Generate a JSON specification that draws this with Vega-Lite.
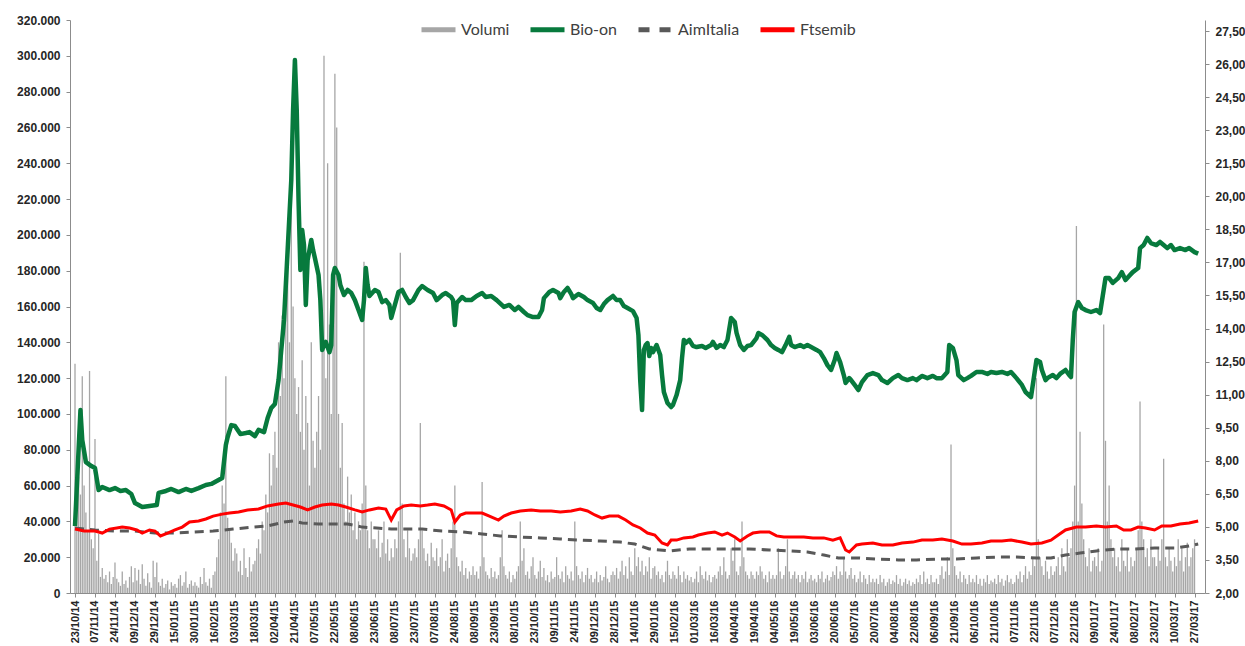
{
"$schema":"https://vega.github.io/schema/vega-lite/v6.json",
"width":1135,"height":573,
"autosize":{"type":"none"},
"padding":{"left":70,"top":20,"right":40,"bottom":53},
"background":"white",
"config":{"view":{"stroke":null},"axis":{"labelFont":"Liberation Sans","labelFontWeight":"bold","labelColor":"#262626","domainColor":"#8c8c8c","tickColor":"#8c8c8c","grid":false},
"legend":{"orient":"none","legendX":349,"legendY":-10,"direction":"horizontal","symbolType":"stroke","symbolSize":1156,"symbolStrokeWidth":5,"labelFont":"Lato","labelFontSize":16,"labelColor":"#404040","columnPadding":10,"labelOffset":3}},
"datasets":{
"vol":[
{"t":0,"v":128000},{"t":1,"v":50000},{"t":2,"v":65000},{"t":3,"v":55000},{"t":4,"v":121000},{"t":5,"v":60000},{"t":6,"v":45000},{"t":7,"v":35000},{"t":8,"v":124000},{"t":9,"v":30000},{"t":10,"v":25000},
{"t":11,"v":86000},{"t":12,"v":18000},{"t":13,"v":33000},{"t":14,"v":9000},{"t":15,"v":14000},{"t":16,"v":8000},{"t":17,"v":10000},{"t":18,"v":6000},{"t":19,"v":12000},{"t":20,"v":5000},{"t":21,"v":9000},
{"t":22,"v":17000},{"t":23,"v":8000},{"t":24,"v":6000},{"t":25,"v":4000},{"t":26,"v":12000},{"t":27,"v":5000},{"t":28,"v":7000},{"t":29,"v":3000},{"t":30,"v":9000},{"t":31,"v":15000},{"t":32,"v":6000},
{"t":33,"v":14000},{"t":34,"v":7000},{"t":35,"v":13000},{"t":36,"v":5000},{"t":37,"v":16000},{"t":38,"v":8000},{"t":39,"v":4000},{"t":40,"v":11000},{"t":41,"v":6000},{"t":42,"v":3000},{"t":43,"v":18000},
{"t":44,"v":9000},{"t":45,"v":17000},{"t":46,"v":6000},{"t":47,"v":4000},{"t":48,"v":8000},{"t":49,"v":3000},{"t":50,"v":5000},{"t":51,"v":7000},{"t":52,"v":2000},{"t":53,"v":6000},{"t":54,"v":4000},
{"t":55,"v":5000},{"t":56,"v":3000},{"t":57,"v":8000},{"t":58,"v":10000},{"t":59,"v":4000},{"t":60,"v":6000},{"t":61,"v":12000},{"t":62,"v":3000},{"t":63,"v":5000},{"t":64,"v":7000},{"t":65,"v":4000},
{"t":66,"v":6000},{"t":67,"v":4000},{"t":68,"v":3000},{"t":69,"v":9000},{"t":70,"v":5000},{"t":71,"v":14000},{"t":72,"v":6000},{"t":73,"v":4000},{"t":74,"v":8000},{"t":75,"v":3000},{"t":76,"v":10000},
{"t":77,"v":12000},{"t":78,"v":20000},{"t":79,"v":30000},{"t":80,"v":45000},{"t":81,"v":60000},{"t":82,"v":50000},{"t":83,"v":121000},{"t":84,"v":42000},{"t":85,"v":35000},{"t":86,"v":28000},{"t":87,"v":18000},
{"t":88,"v":25000},{"t":89,"v":22000},{"t":90,"v":12000},{"t":91,"v":18000},{"t":92,"v":10000},{"t":93,"v":25000},{"t":94,"v":14000},{"t":95,"v":9000},{"t":96,"v":20000},{"t":97,"v":12000},{"t":98,"v":16000},
{"t":99,"v":18000},{"t":100,"v":25000},{"t":101,"v":30000},{"t":102,"v":22000},{"t":103,"v":40000},{"t":104,"v":35000},{"t":105,"v":55000},{"t":106,"v":45000},{"t":107,"v":78000},{"t":108,"v":60000},{"t":109,"v":77000},
{"t":110,"v":90000},{"t":111,"v":70000},{"t":112,"v":140000},{"t":113,"v":110000},{"t":114,"v":155000},{"t":115,"v":120000},{"t":116,"v":170000},{"t":117,"v":190000},{"t":118,"v":140000},{"t":119,"v":230000},{"t":120,"v":160000},
{"t":121,"v":120000},{"t":122,"v":100000},{"t":123,"v":115000},{"t":124,"v":90000},{"t":125,"v":130000},{"t":126,"v":80000},{"t":127,"v":110000},{"t":128,"v":95000},{"t":129,"v":60000},{"t":130,"v":140000},{"t":131,"v":85000},
{"t":132,"v":70000},{"t":133,"v":90000},{"t":134,"v":110000},{"t":135,"v":80000},{"t":136,"v":150000},{"t":137,"v":300000},{"t":138,"v":120000},{"t":139,"v":240000},{"t":140,"v":150000},{"t":141,"v":100000},{"t":142,"v":180000},
{"t":143,"v":290000},{"t":144,"v":260000},{"t":145,"v":100000},{"t":146,"v":70000},{"t":147,"v":95000},{"t":148,"v":50000},{"t":149,"v":40000},{"t":150,"v":65000},{"t":151,"v":45000},{"t":152,"v":55000},{"t":153,"v":35000},
{"t":154,"v":45000},{"t":155,"v":30000},{"t":156,"v":40000},{"t":157,"v":35000},{"t":158,"v":50000},{"t":159,"v":185000},{"t":160,"v":60000},{"t":161,"v":35000},{"t":162,"v":25000},{"t":163,"v":40000},{"t":164,"v":30000},
{"t":165,"v":30000},{"t":166,"v":25000},{"t":167,"v":35000},{"t":168,"v":20000},{"t":169,"v":28000},{"t":170,"v":40000},{"t":171,"v":22000},{"t":172,"v":30000},{"t":173,"v":18000},{"t":174,"v":25000},{"t":175,"v":20000},
{"t":176,"v":30000},{"t":177,"v":25000},{"t":178,"v":40000},{"t":179,"v":190000},{"t":180,"v":50000},{"t":181,"v":30000},{"t":182,"v":20000},{"t":183,"v":35000},{"t":184,"v":25000},{"t":185,"v":18000},{"t":186,"v":22000},
{"t":187,"v":25000},{"t":188,"v":20000},{"t":189,"v":30000},{"t":190,"v":95000},{"t":191,"v":35000},{"t":192,"v":25000},{"t":193,"v":18000},{"t":194,"v":22000},{"t":195,"v":15000},{"t":196,"v":28000},{"t":197,"v":20000},
{"t":198,"v":18000},{"t":199,"v":25000},{"t":200,"v":15000},{"t":201,"v":20000},{"t":202,"v":30000},{"t":203,"v":12000},{"t":204,"v":18000},{"t":205,"v":22000},{"t":206,"v":14000},{"t":207,"v":25000},{"t":208,"v":40000},
{"t":209,"v":60000},{"t":210,"v":20000},{"t":211,"v":15000},{"t":212,"v":12000},{"t":213,"v":18000},{"t":214,"v":10000},{"t":215,"v":14000},{"t":216,"v":8000},{"t":217,"v":12000},{"t":218,"v":10000},{"t":219,"v":15000},
{"t":220,"v":10000},{"t":221,"v":12000},{"t":222,"v":8000},{"t":223,"v":15000},{"t":224,"v":62000},{"t":225,"v":20000},{"t":226,"v":12000},{"t":227,"v":10000},{"t":228,"v":8000},{"t":229,"v":14000},{"t":230,"v":9000},
{"t":231,"v":12000},{"t":232,"v":8000},{"t":233,"v":10000},{"t":234,"v":20000},{"t":235,"v":35000},{"t":236,"v":15000},{"t":237,"v":10000},{"t":238,"v":8000},{"t":239,"v":12000},{"t":240,"v":6000},{"t":241,"v":10000},
{"t":242,"v":8000},{"t":243,"v":12000},{"t":244,"v":15000},{"t":245,"v":40000},{"t":246,"v":18000},{"t":247,"v":25000},{"t":248,"v":10000},{"t":249,"v":12000},{"t":250,"v":8000},{"t":251,"v":15000},{"t":252,"v":20000},
{"t":253,"v":10000},{"t":254,"v":8000},{"t":255,"v":12000},{"t":256,"v":18000},{"t":257,"v":9000},{"t":258,"v":14000},{"t":259,"v":7000},{"t":260,"v":10000},{"t":261,"v":6000},{"t":262,"v":12000},{"t":263,"v":8000},
{"t":264,"v":9000},{"t":265,"v":20000},{"t":266,"v":10000},{"t":267,"v":8000},{"t":268,"v":12000},{"t":269,"v":6000},{"t":270,"v":15000},{"t":271,"v":10000},{"t":272,"v":8000},{"t":273,"v":12000},{"t":274,"v":7000},
{"t":275,"v":40000},{"t":276,"v":15000},{"t":277,"v":10000},{"t":278,"v":8000},{"t":279,"v":12000},{"t":280,"v":6000},{"t":281,"v":10000},{"t":282,"v":14000},{"t":283,"v":8000},{"t":284,"v":10000},{"t":285,"v":6000},
{"t":286,"v":8000},{"t":287,"v":12000},{"t":288,"v":6000},{"t":289,"v":10000},{"t":290,"v":7000},{"t":291,"v":9000},{"t":292,"v":15000},{"t":293,"v":8000},{"t":294,"v":6000},{"t":295,"v":10000},{"t":296,"v":12000},
{"t":297,"v":10000},{"t":298,"v":14000},{"t":299,"v":8000},{"t":300,"v":12000},{"t":301,"v":18000},{"t":302,"v":10000},{"t":303,"v":15000},{"t":304,"v":8000},{"t":305,"v":20000},{"t":306,"v":12000},{"t":307,"v":10000},
{"t":308,"v":25000},{"t":309,"v":15000},{"t":310,"v":20000},{"t":311,"v":12000},{"t":312,"v":18000},{"t":313,"v":10000},{"t":314,"v":15000},{"t":315,"v":12000},{"t":316,"v":20000},{"t":317,"v":8000},{"t":318,"v":14000},
{"t":319,"v":15000},{"t":320,"v":10000},{"t":321,"v":12000},{"t":322,"v":8000},{"t":323,"v":10000},{"t":324,"v":6000},{"t":325,"v":12000},{"t":326,"v":18000},{"t":327,"v":10000},{"t":328,"v":8000},{"t":329,"v":12000},
{"t":330,"v":10000},{"t":331,"v":8000},{"t":332,"v":15000},{"t":333,"v":10000},{"t":334,"v":6000},{"t":335,"v":12000},{"t":336,"v":8000},{"t":337,"v":10000},{"t":338,"v":7000},{"t":339,"v":9000},{"t":340,"v":6000},
{"t":341,"v":8000},{"t":342,"v":12000},{"t":343,"v":6000},{"t":344,"v":15000},{"t":345,"v":10000},{"t":346,"v":8000},{"t":347,"v":12000},{"t":348,"v":7000},{"t":349,"v":10000},{"t":350,"v":6000},{"t":351,"v":9000},
{"t":352,"v":10000},{"t":353,"v":8000},{"t":354,"v":12000},{"t":355,"v":15000},{"t":356,"v":10000},{"t":357,"v":20000},{"t":358,"v":12000},{"t":359,"v":8000},{"t":360,"v":10000},{"t":361,"v":25000},{"t":362,"v":18000},
{"t":363,"v":30000},{"t":364,"v":12000},{"t":365,"v":10000},{"t":366,"v":15000},{"t":367,"v":40000},{"t":368,"v":20000},{"t":369,"v":12000},{"t":370,"v":10000},{"t":371,"v":8000},{"t":372,"v":12000},{"t":373,"v":10000},
{"t":374,"v":8000},{"t":375,"v":12000},{"t":376,"v":10000},{"t":377,"v":15000},{"t":378,"v":12000},{"t":379,"v":8000},{"t":380,"v":10000},{"t":381,"v":6000},{"t":382,"v":12000},{"t":383,"v":8000},{"t":384,"v":10000},
{"t":385,"v":8000},{"t":386,"v":10000},{"t":387,"v":25000},{"t":388,"v":12000},{"t":389,"v":8000},{"t":390,"v":10000},{"t":391,"v":15000},{"t":392,"v":30000},{"t":393,"v":12000},{"t":394,"v":8000},{"t":395,"v":10000},
{"t":396,"v":12000},{"t":397,"v":8000},{"t":398,"v":10000},{"t":399,"v":6000},{"t":400,"v":10000},{"t":401,"v":8000},{"t":402,"v":12000},{"t":403,"v":6000},{"t":404,"v":8000},{"t":405,"v":10000},{"t":406,"v":7000},
{"t":407,"v":8000},{"t":408,"v":6000},{"t":409,"v":10000},{"t":410,"v":8000},{"t":411,"v":12000},{"t":412,"v":6000},{"t":413,"v":8000},{"t":414,"v":10000},{"t":415,"v":7000},{"t":416,"v":9000},{"t":417,"v":12000},
{"t":418,"v":10000},{"t":419,"v":15000},{"t":420,"v":8000},{"t":421,"v":12000},{"t":422,"v":10000},{"t":423,"v":20000},{"t":424,"v":12000},{"t":425,"v":8000},{"t":426,"v":10000},{"t":427,"v":14000},{"t":428,"v":8000},
{"t":429,"v":10000},{"t":430,"v":6000},{"t":431,"v":8000},{"t":432,"v":12000},{"t":433,"v":6000},{"t":434,"v":10000},{"t":435,"v":8000},{"t":436,"v":5000},{"t":437,"v":10000},{"t":438,"v":6000},{"t":439,"v":8000},
{"t":440,"v":6000},{"t":441,"v":8000},{"t":442,"v":5000},{"t":443,"v":10000},{"t":444,"v":6000},{"t":445,"v":8000},{"t":446,"v":4000},{"t":447,"v":6000},{"t":448,"v":8000},{"t":449,"v":5000},{"t":450,"v":7000},
{"t":451,"v":6000},{"t":452,"v":10000},{"t":453,"v":5000},{"t":454,"v":8000},{"t":455,"v":4000},{"t":456,"v":6000},{"t":457,"v":8000},{"t":458,"v":5000},{"t":459,"v":7000},{"t":460,"v":4000},{"t":461,"v":6000},
{"t":462,"v":5000},{"t":463,"v":8000},{"t":464,"v":6000},{"t":465,"v":10000},{"t":466,"v":5000},{"t":467,"v":12000},{"t":468,"v":6000},{"t":469,"v":8000},{"t":470,"v":5000},{"t":471,"v":10000},{"t":472,"v":6000},
{"t":473,"v":6000},{"t":474,"v":8000},{"t":475,"v":5000},{"t":476,"v":10000},{"t":477,"v":15000},{"t":478,"v":8000},{"t":479,"v":12000},{"t":480,"v":20000},{"t":481,"v":10000},{"t":482,"v":83000},{"t":483,"v":25000},
{"t":484,"v":15000},{"t":485,"v":10000},{"t":486,"v":8000},{"t":487,"v":12000},{"t":488,"v":6000},{"t":489,"v":10000},{"t":490,"v":8000},{"t":491,"v":5000},{"t":492,"v":10000},{"t":493,"v":6000},{"t":494,"v":8000},
{"t":495,"v":6000},{"t":496,"v":10000},{"t":497,"v":5000},{"t":498,"v":8000},{"t":499,"v":4000},{"t":500,"v":8000},{"t":501,"v":6000},{"t":502,"v":10000},{"t":503,"v":5000},{"t":504,"v":7000},{"t":505,"v":6000},
{"t":506,"v":8000},{"t":507,"v":5000},{"t":508,"v":10000},{"t":509,"v":6000},{"t":510,"v":8000},{"t":511,"v":4000},{"t":512,"v":7000},{"t":513,"v":10000},{"t":514,"v":6000},{"t":515,"v":8000},{"t":516,"v":5000},
{"t":517,"v":6000},{"t":518,"v":10000},{"t":519,"v":8000},{"t":520,"v":12000},{"t":521,"v":6000},{"t":522,"v":10000},{"t":523,"v":15000},{"t":524,"v":8000},{"t":525,"v":12000},{"t":526,"v":10000},{"t":527,"v":20000},
{"t":528,"v":15000},{"t":529,"v":120000},{"t":530,"v":30000},{"t":531,"v":20000},{"t":532,"v":15000},{"t":533,"v":10000},{"t":534,"v":18000},{"t":535,"v":12000},{"t":536,"v":8000},{"t":537,"v":15000},{"t":538,"v":10000},
{"t":539,"v":12000},{"t":540,"v":15000},{"t":541,"v":20000},{"t":542,"v":10000},{"t":543,"v":25000},{"t":544,"v":15000},{"t":545,"v":12000},{"t":546,"v":30000},{"t":547,"v":20000},{"t":548,"v":25000},{"t":549,"v":40000},
{"t":550,"v":60000},{"t":551,"v":205000},{"t":552,"v":40000},{"t":553,"v":90000},{"t":554,"v":50000},{"t":555,"v":30000},{"t":556,"v":20000},{"t":557,"v":15000},{"t":558,"v":25000},{"t":559,"v":12000},{"t":560,"v":18000},
{"t":561,"v":20000},{"t":562,"v":15000},{"t":563,"v":25000},{"t":564,"v":12000},{"t":565,"v":18000},{"t":566,"v":150000},{"t":567,"v":85000},{"t":568,"v":40000},{"t":569,"v":60000},{"t":570,"v":30000},{"t":571,"v":20000},
{"t":572,"v":25000},{"t":573,"v":15000},{"t":574,"v":20000},{"t":575,"v":12000},{"t":576,"v":30000},{"t":577,"v":18000},{"t":578,"v":15000},{"t":579,"v":25000},{"t":580,"v":12000},{"t":581,"v":20000},{"t":582,"v":15000},
{"t":583,"v":18000},{"t":584,"v":25000},{"t":585,"v":35000},{"t":586,"v":107000},{"t":587,"v":40000},{"t":588,"v":30000},{"t":589,"v":20000},{"t":590,"v":25000},{"t":591,"v":15000},{"t":592,"v":30000},{"t":593,"v":20000},
{"t":594,"v":20000},{"t":595,"v":15000},{"t":596,"v":25000},{"t":597,"v":18000},{"t":598,"v":30000},{"t":599,"v":75000},{"t":600,"v":20000},{"t":601,"v":15000},{"t":602,"v":25000},{"t":603,"v":18000},{"t":604,"v":12000},
{"t":605,"v":20000},{"t":606,"v":15000},{"t":607,"v":30000},{"t":608,"v":18000},{"t":609,"v":25000},{"t":610,"v":12000},{"t":611,"v":20000},{"t":612,"v":28000},{"t":613,"v":15000},{"t":614,"v":20000},{"t":615,"v":25000},
{"t":616,"v":30000}
],
"px":[
{"s":"Bio-on","t":0,"p":5.04},{"s":"Bio-on","t":3,"p":10.3},{"s":"Bio-on","t":4,"p":8.94},{"s":"Bio-on","t":6,"p":7.94},{"s":"Bio-on","t":9,"p":7.76},{"s":"Bio-on","t":11,"p":7.67},{"s":"Bio-on","t":13,"p":6.67},{"s":"Bio-on","t":15,"p":6.81},{"s":"Bio-on","t":19,"p":6.67},{"s":"Bio-on","t":22,"p":6.76},{"s":"Bio-on","t":25,"p":6.63},{"s":"Bio-on","t":28,"p":6.67},{"s":"Bio-on","t":31,"p":6.49},{"s":"Bio-on","t":33,"p":6.08},{"s":"Bio-on","t":37,"p":5.9},{"s":"Bio-on","t":41,"p":5.95},{"s":"Bio-on","t":45,"p":5.99},{"s":"Bio-on","t":46,"p":6.54},{"s":"Bio-on","t":50,"p":6.63},{"s":"Bio-on","t":53,"p":6.72},{"s":"Bio-on","t":57,"p":6.58},{"s":"Bio-on","t":61,"p":6.72},{"s":"Bio-on","t":64,"p":6.63},{"s":"Bio-on","t":68,"p":6.76},{"s":"Bio-on","t":72,"p":6.9},{"s":"Bio-on","t":75,"p":6.95},{"s":"Bio-on","t":79,"p":7.13},{"s":"Bio-on","t":81,"p":7.22},{"s":"Bio-on","t":83,"p":8.72},{"s":"Bio-on","t":84,"p":9.08},{"s":"Bio-on","t":86,"p":9.62},{"s":"Bio-on","t":88,"p":9.58},{"s":"Bio-on","t":91,"p":9.21},{"s":"Bio-on","t":94,"p":9.26},{"s":"Bio-on","t":96,"p":9.3},{"s":"Bio-on","t":99,"p":9.12},{"s":"Bio-on","t":101,"p":9.4},{"s":"Bio-on","t":104,"p":9.3},{"s":"Bio-on","t":106,"p":9.94},{"s":"Bio-on","t":108,"p":10.39},{"s":"Bio-on","t":110,"p":10.58},{"s":"Bio-on","t":112,"p":11.66},{"s":"Bio-on","t":115,"p":14.39},{"s":"Bio-on","t":117,"p":17.56},{"s":"Bio-on","t":119,"p":20.74},{"s":"Bio-on","t":120,"p":23.91},{"s":"Bio-on","t":121,"p":26.18},{"s":"Bio-on","t":122,"p":23.91},{"s":"Bio-on","t":123,"p":19.83},{"s":"Bio-on","t":124,"p":16.66},{"s":"Bio-on","t":125,"p":18.47},{"s":"Bio-on","t":126,"p":17.79},{"s":"Bio-on","t":127,"p":15.07},{"s":"Bio-on","t":128,"p":17.11},{"s":"Bio-on","t":129,"p":17.56},{"s":"Bio-on","t":130,"p":18.02},{"s":"Bio-on","t":131,"p":17.56},{"s":"Bio-on","t":132,"p":17.2},{"s":"Bio-on","t":134,"p":16.43},{"s":"Bio-on","t":135,"p":15.29},{"s":"Bio-on","t":136,"p":13.03},{"s":"Bio-on","t":137,"p":13.25},{"s":"Bio-on","t":138,"p":13.39},{"s":"Bio-on","t":140,"p":12.93},{"s":"Bio-on","t":141,"p":13.25},{"s":"Bio-on","t":142,"p":16.43},{"s":"Bio-on","t":143,"p":16.75},{"s":"Bio-on","t":145,"p":16.43},{"s":"Bio-on","t":146,"p":15.97},{"s":"Bio-on","t":148,"p":15.52},{"s":"Bio-on","t":150,"p":15.75},{"s":"Bio-on","t":152,"p":15.61},{"s":"Bio-on","t":154,"p":15.29},{"s":"Bio-on","t":156,"p":14.84},{"s":"Bio-on","t":158,"p":14.39},{"s":"Bio-on","t":159,"p":15.29},{"s":"Bio-on","t":160,"p":16.75},{"s":"Bio-on","t":161,"p":15.97},{"s":"Bio-on","t":162,"p":15.48},{"s":"Bio-on","t":165,"p":15.75},{"s":"Bio-on","t":167,"p":15.66},{"s":"Bio-on","t":169,"p":15.2},{"s":"Bio-on","t":171,"p":15.29},{"s":"Bio-on","t":173,"p":15.07},{"s":"Bio-on","t":174,"p":14.48},{"s":"Bio-on","t":176,"p":15.07},{"s":"Bio-on","t":178,"p":15.66},{"s":"Bio-on","t":180,"p":15.75},{"s":"Bio-on","t":182,"p":15.43},{"s":"Bio-on","t":184,"p":15.16},{"s":"Bio-on","t":186,"p":15.29},{"s":"Bio-on","t":189,"p":15.75},{"s":"Bio-on","t":191,"p":15.93},{"s":"Bio-on","t":194,"p":15.75},{"s":"Bio-on","t":197,"p":15.61},{"s":"Bio-on","t":199,"p":15.29},{"s":"Bio-on","t":202,"p":15.52},{"s":"Bio-on","t":204,"p":15.61},{"s":"Bio-on","t":207,"p":15.43},{"s":"Bio-on","t":208,"p":15.29},{"s":"Bio-on","t":209,"p":14.16},{"s":"Bio-on","t":210,"p":15.16},{"s":"Bio-on","t":213,"p":15.43},{"s":"Bio-on","t":215,"p":15.29},{"s":"Bio-on","t":218,"p":15.29},{"s":"Bio-on","t":221,"p":15.48},{"s":"Bio-on","t":224,"p":15.61},{"s":"Bio-on","t":226,"p":15.43},{"s":"Bio-on","t":229,"p":15.48},{"s":"Bio-on","t":232,"p":15.29},{"s":"Bio-on","t":236,"p":14.98},{"s":"Bio-on","t":239,"p":15.07},{"s":"Bio-on","t":242,"p":14.84},{"s":"Bio-on","t":244,"p":14.98},{"s":"Bio-on","t":247,"p":14.75},{"s":"Bio-on","t":249,"p":14.61},{"s":"Bio-on","t":252,"p":14.52},{"s":"Bio-on","t":255,"p":14.52},{"s":"Bio-on","t":257,"p":14.84},{"s":"Bio-on","t":258,"p":15.38},{"s":"Bio-on","t":261,"p":15.66},{"s":"Bio-on","t":263,"p":15.75},{"s":"Bio-on","t":266,"p":15.61},{"s":"Bio-on","t":267,"p":15.38},{"s":"Bio-on","t":269,"p":15.66},{"s":"Bio-on","t":271,"p":15.84},{"s":"Bio-on","t":273,"p":15.57},{"s":"Bio-on","t":274,"p":15.38},{"s":"Bio-on","t":277,"p":15.57},{"s":"Bio-on","t":280,"p":15.43},{"s":"Bio-on","t":282,"p":15.29},{"s":"Bio-on","t":285,"p":15.16},{"s":"Bio-on","t":287,"p":14.93},{"s":"Bio-on","t":289,"p":14.84},{"s":"Bio-on","t":291,"p":15.11},{"s":"Bio-on","t":293,"p":15.29},{"s":"Bio-on","t":296,"p":15.48},{"s":"Bio-on","t":298,"p":15.29},{"s":"Bio-on","t":300,"p":15.29},{"s":"Bio-on","t":302,"p":15.02},{"s":"Bio-on","t":304,"p":14.93},{"s":"Bio-on","t":307,"p":14.79},{"s":"Bio-on","t":309,"p":14.48},{"s":"Bio-on","t":310,"p":13.71},{"s":"Bio-on","t":311,"p":11.66},{"s":"Bio-on","t":312,"p":10.3},{"s":"Bio-on","t":313,"p":13.03},{"s":"Bio-on","t":314,"p":13.25},{"s":"Bio-on","t":315,"p":13.34},{"s":"Bio-on","t":316,"p":12.75},{"s":"Bio-on","t":317,"p":13.12},{"s":"Bio-on","t":318,"p":12.93},{"s":"Bio-on","t":320,"p":13.25},{"s":"Bio-on","t":322,"p":12.8},{"s":"Bio-on","t":323,"p":11.89},{"s":"Bio-on","t":324,"p":11.12},{"s":"Bio-on","t":326,"p":10.62},{"s":"Bio-on","t":328,"p":10.44},{"s":"Bio-on","t":329,"p":10.53},{"s":"Bio-on","t":331,"p":10.98},{"s":"Bio-on","t":333,"p":11.66},{"s":"Bio-on","t":334,"p":12.66},{"s":"Bio-on","t":335,"p":13.48},{"s":"Bio-on","t":336,"p":13.34},{"s":"Bio-on","t":338,"p":13.48},{"s":"Bio-on","t":340,"p":13.21},{"s":"Bio-on","t":342,"p":13.16},{"s":"Bio-on","t":345,"p":13.21},{"s":"Bio-on","t":347,"p":13.12},{"s":"Bio-on","t":350,"p":13.25},{"s":"Bio-on","t":351,"p":13.39},{"s":"Bio-on","t":353,"p":13.12},{"s":"Bio-on","t":355,"p":13.25},{"s":"Bio-on","t":357,"p":13.16},{"s":"Bio-on","t":359,"p":13.48},{"s":"Bio-on","t":361,"p":14.48},{"s":"Bio-on","t":363,"p":14.3},{"s":"Bio-on","t":364,"p":13.8},{"s":"Bio-on","t":366,"p":13.25},{"s":"Bio-on","t":368,"p":13.03},{"s":"Bio-on","t":370,"p":13.21},{"s":"Bio-on","t":372,"p":13.25},{"s":"Bio-on","t":375,"p":13.57},{"s":"Bio-on","t":376,"p":13.8},{"s":"Bio-on","t":378,"p":13.71},{"s":"Bio-on","t":381,"p":13.48},{"s":"Bio-on","t":383,"p":13.25},{"s":"Bio-on","t":385,"p":13.12},{"s":"Bio-on","t":387,"p":13.03},{"s":"Bio-on","t":389,"p":12.93},{"s":"Bio-on","t":391,"p":13.25},{"s":"Bio-on","t":393,"p":13.62},{"s":"Bio-on","t":394,"p":13.25},{"s":"Bio-on","t":396,"p":13.16},{"s":"Bio-on","t":399,"p":13.25},{"s":"Bio-on","t":401,"p":13.16},{"s":"Bio-on","t":403,"p":13.25},{"s":"Bio-on","t":406,"p":13.12},{"s":"Bio-on","t":408,"p":13.03},{"s":"Bio-on","t":410,"p":12.93},{"s":"Bio-on","t":412,"p":12.66},{"s":"Bio-on","t":414,"p":12.34},{"s":"Bio-on","t":416,"p":12.12},{"s":"Bio-on","t":418,"p":12.57},{"s":"Bio-on","t":419,"p":12.89},{"s":"Bio-on","t":421,"p":12.48},{"s":"Bio-on","t":423,"p":11.89},{"s":"Bio-on","t":424,"p":11.53},{"s":"Bio-on","t":426,"p":11.75},{"s":"Bio-on","t":427,"p":11.66},{"s":"Bio-on","t":429,"p":11.44},{"s":"Bio-on","t":431,"p":11.21},{"s":"Bio-on","t":433,"p":11.57},{"s":"Bio-on","t":436,"p":11.89},{"s":"Bio-on","t":439,"p":11.98},{"s":"Bio-on","t":442,"p":11.89},{"s":"Bio-on","t":444,"p":11.66},{"s":"Bio-on","t":447,"p":11.53},{"s":"Bio-on","t":450,"p":11.75},{"s":"Bio-on","t":453,"p":11.89},{"s":"Bio-on","t":455,"p":11.75},{"s":"Bio-on","t":458,"p":11.66},{"s":"Bio-on","t":461,"p":11.75},{"s":"Bio-on","t":463,"p":11.66},{"s":"Bio-on","t":466,"p":11.85},{"s":"Bio-on","t":469,"p":11.75},{"s":"Bio-on","t":472,"p":11.85},{"s":"Bio-on","t":474,"p":11.75},{"s":"Bio-on","t":477,"p":11.75},{"s":"Bio-on","t":480,"p":12.03},{"s":"Bio-on","t":481,"p":13.25},{"s":"Bio-on","t":483,"p":13.12},{"s":"Bio-on","t":485,"p":12.57},{"s":"Bio-on","t":486,"p":11.89},{"s":"Bio-on","t":489,"p":11.66},{"s":"Bio-on","t":491,"p":11.75},{"s":"Bio-on","t":493,"p":11.85},{"s":"Bio-on","t":496,"p":12.03},{"s":"Bio-on","t":499,"p":12.03},{"s":"Bio-on","t":502,"p":11.94},{"s":"Bio-on","t":504,"p":12.03},{"s":"Bio-on","t":507,"p":11.98},{"s":"Bio-on","t":510,"p":12.03},{"s":"Bio-on","t":513,"p":11.94},{"s":"Bio-on","t":515,"p":12.03},{"s":"Bio-on","t":518,"p":11.75},{"s":"Bio-on","t":521,"p":11.44},{"s":"Bio-on","t":523,"p":11.12},{"s":"Bio-on","t":526,"p":10.89},{"s":"Bio-on","t":527,"p":11.44},{"s":"Bio-on","t":529,"p":12.57},{"s":"Bio-on","t":531,"p":12.48},{"s":"Bio-on","t":532,"p":12.12},{"s":"Bio-on","t":534,"p":11.66},{"s":"Bio-on","t":535,"p":11.75},{"s":"Bio-on","t":538,"p":11.89},{"s":"Bio-on","t":540,"p":11.75},{"s":"Bio-on","t":542,"p":11.94},{"s":"Bio-on","t":545,"p":12.12},{"s":"Bio-on","t":547,"p":11.89},{"s":"Bio-on","t":548,"p":11.8},{"s":"Bio-on","t":549,"p":13.48},{"s":"Bio-on","t":550,"p":14.75},{"s":"Bio-on","t":552,"p":15.2},{"s":"Bio-on","t":554,"p":14.93},{"s":"Bio-on","t":556,"p":14.84},{"s":"Bio-on","t":559,"p":14.75},{"s":"Bio-on","t":562,"p":14.84},{"s":"Bio-on","t":564,"p":14.7},{"s":"Bio-on","t":566,"p":15.75},{"s":"Bio-on","t":567,"p":16.29},{"s":"Bio-on","t":569,"p":16.29},{"s":"Bio-on","t":571,"p":16.07},{"s":"Bio-on","t":574,"p":16.29},{"s":"Bio-on","t":576,"p":16.56},{"s":"Bio-on","t":578,"p":16.2},{"s":"Bio-on","t":580,"p":16.38},{"s":"Bio-on","t":582,"p":16.56},{"s":"Bio-on","t":585,"p":16.75},{"s":"Bio-on","t":586,"p":17.65},{"s":"Bio-on","t":588,"p":17.79},{"s":"Bio-on","t":590,"p":18.11},{"s":"Bio-on","t":592,"p":17.88},{"s":"Bio-on","t":595,"p":17.79},{"s":"Bio-on","t":597,"p":17.93},{"s":"Bio-on","t":599,"p":17.79},{"s":"Bio-on","t":601,"p":17.65},{"s":"Bio-on","t":603,"p":17.79},{"s":"Bio-on","t":605,"p":17.56},{"s":"Bio-on","t":608,"p":17.65},{"s":"Bio-on","t":611,"p":17.56},{"s":"Bio-on","t":613,"p":17.65},{"s":"Bio-on","t":616,"p":17.47},{"s":"Bio-on","t":618,"p":17.4},
{"s":"Ftsemib","t":0,"p":4.9},{"s":"Ftsemib","t":5,"p":4.81},{"s":"Ftsemib","t":11,"p":4.81},{"s":"Ftsemib","t":15,"p":4.72},{"s":"Ftsemib","t":19,"p":4.9},{"s":"Ftsemib","t":23,"p":4.95},{"s":"Ftsemib","t":26,"p":4.99},{"s":"Ftsemib","t":30,"p":4.95},{"s":"Ftsemib","t":34,"p":4.86},{"s":"Ftsemib","t":37,"p":4.72},{"s":"Ftsemib","t":41,"p":4.86},{"s":"Ftsemib","t":44,"p":4.81},{"s":"Ftsemib","t":47,"p":4.59},{"s":"Ftsemib","t":51,"p":4.72},{"s":"Ftsemib","t":55,"p":4.86},{"s":"Ftsemib","t":59,"p":4.99},{"s":"Ftsemib","t":63,"p":5.22},{"s":"Ftsemib","t":68,"p":5.27},{"s":"Ftsemib","t":72,"p":5.36},{"s":"Ftsemib","t":76,"p":5.49},{"s":"Ftsemib","t":81,"p":5.58},{"s":"Ftsemib","t":85,"p":5.63},{"s":"Ftsemib","t":90,"p":5.68},{"s":"Ftsemib","t":95,"p":5.77},{"s":"Ftsemib","t":101,"p":5.81},{"s":"Ftsemib","t":106,"p":5.95},{"s":"Ftsemib","t":112,"p":6.04},{"s":"Ftsemib","t":116,"p":6.08},{"s":"Ftsemib","t":120,"p":5.99},{"s":"Ftsemib","t":124,"p":5.9},{"s":"Ftsemib","t":128,"p":5.77},{"s":"Ftsemib","t":132,"p":5.9},{"s":"Ftsemib","t":136,"p":5.99},{"s":"Ftsemib","t":141,"p":6.04},{"s":"Ftsemib","t":145,"p":5.99},{"s":"Ftsemib","t":149,"p":5.9},{"s":"Ftsemib","t":154,"p":5.77},{"s":"Ftsemib","t":158,"p":5.68},{"s":"Ftsemib","t":162,"p":5.77},{"s":"Ftsemib","t":167,"p":5.86},{"s":"Ftsemib","t":171,"p":5.81},{"s":"Ftsemib","t":174,"p":5.31},{"s":"Ftsemib","t":177,"p":5.77},{"s":"Ftsemib","t":181,"p":5.95},{"s":"Ftsemib","t":185,"p":5.99},{"s":"Ftsemib","t":190,"p":5.95},{"s":"Ftsemib","t":194,"p":5.99},{"s":"Ftsemib","t":198,"p":6.04},{"s":"Ftsemib","t":203,"p":5.95},{"s":"Ftsemib","t":207,"p":5.77},{"s":"Ftsemib","t":209,"p":5.22},{"s":"Ftsemib","t":212,"p":5.54},{"s":"Ftsemib","t":215,"p":5.63},{"s":"Ftsemib","t":219,"p":5.63},{"s":"Ftsemib","t":224,"p":5.63},{"s":"Ftsemib","t":228,"p":5.49},{"s":"Ftsemib","t":233,"p":5.31},{"s":"Ftsemib","t":236,"p":5.49},{"s":"Ftsemib","t":240,"p":5.63},{"s":"Ftsemib","t":245,"p":5.72},{"s":"Ftsemib","t":251,"p":5.77},{"s":"Ftsemib","t":256,"p":5.72},{"s":"Ftsemib","t":262,"p":5.72},{"s":"Ftsemib","t":267,"p":5.68},{"s":"Ftsemib","t":273,"p":5.72},{"s":"Ftsemib","t":278,"p":5.81},{"s":"Ftsemib","t":282,"p":5.72},{"s":"Ftsemib","t":286,"p":5.54},{"s":"Ftsemib","t":290,"p":5.4},{"s":"Ftsemib","t":294,"p":5.49},{"s":"Ftsemib","t":299,"p":5.49},{"s":"Ftsemib","t":303,"p":5.31},{"s":"Ftsemib","t":307,"p":5.09},{"s":"Ftsemib","t":311,"p":4.95},{"s":"Ftsemib","t":315,"p":4.72},{"s":"Ftsemib","t":319,"p":4.63},{"s":"Ftsemib","t":323,"p":4.27},{"s":"Ftsemib","t":326,"p":4.18},{"s":"Ftsemib","t":328,"p":4.4},{"s":"Ftsemib","t":331,"p":4.4},{"s":"Ftsemib","t":335,"p":4.5},{"s":"Ftsemib","t":340,"p":4.54},{"s":"Ftsemib","t":343,"p":4.63},{"s":"Ftsemib","t":348,"p":4.72},{"s":"Ftsemib","t":352,"p":4.77},{"s":"Ftsemib","t":356,"p":4.63},{"s":"Ftsemib","t":359,"p":4.72},{"s":"Ftsemib","t":363,"p":4.54},{"s":"Ftsemib","t":366,"p":4.36},{"s":"Ftsemib","t":370,"p":4.59},{"s":"Ftsemib","t":373,"p":4.72},{"s":"Ftsemib","t":377,"p":4.77},{"s":"Ftsemib","t":382,"p":4.77},{"s":"Ftsemib","t":386,"p":4.59},{"s":"Ftsemib","t":390,"p":4.54},{"s":"Ftsemib","t":395,"p":4.54},{"s":"Ftsemib","t":401,"p":4.54},{"s":"Ftsemib","t":406,"p":4.5},{"s":"Ftsemib","t":412,"p":4.5},{"s":"Ftsemib","t":417,"p":4.4},{"s":"Ftsemib","t":421,"p":4.5},{"s":"Ftsemib","t":424,"p":3.95},{"s":"Ftsemib","t":426,"p":3.86},{"s":"Ftsemib","t":430,"p":4.18},{"s":"Ftsemib","t":433,"p":4.22},{"s":"Ftsemib","t":439,"p":4.27},{"s":"Ftsemib","t":444,"p":4.18},{"s":"Ftsemib","t":450,"p":4.18},{"s":"Ftsemib","t":455,"p":4.27},{"s":"Ftsemib","t":461,"p":4.31},{"s":"Ftsemib","t":466,"p":4.4},{"s":"Ftsemib","t":472,"p":4.4},{"s":"Ftsemib","t":477,"p":4.45},{"s":"Ftsemib","t":483,"p":4.36},{"s":"Ftsemib","t":488,"p":4.22},{"s":"Ftsemib","t":493,"p":4.22},{"s":"Ftsemib","t":499,"p":4.27},{"s":"Ftsemib","t":504,"p":4.36},{"s":"Ftsemib","t":510,"p":4.36},{"s":"Ftsemib","t":515,"p":4.4},{"s":"Ftsemib","t":521,"p":4.31},{"s":"Ftsemib","t":526,"p":4.22},{"s":"Ftsemib","t":532,"p":4.27},{"s":"Ftsemib","t":537,"p":4.4},{"s":"Ftsemib","t":541,"p":4.63},{"s":"Ftsemib","t":545,"p":4.86},{"s":"Ftsemib","t":551,"p":4.99},{"s":"Ftsemib","t":556,"p":4.99},{"s":"Ftsemib","t":562,"p":5.04},{"s":"Ftsemib","t":567,"p":4.99},{"s":"Ftsemib","t":573,"p":5.04},{"s":"Ftsemib","t":577,"p":4.86},{"s":"Ftsemib","t":581,"p":4.86},{"s":"Ftsemib","t":585,"p":4.99},{"s":"Ftsemib","t":589,"p":4.95},{"s":"Ftsemib","t":594,"p":4.86},{"s":"Ftsemib","t":598,"p":5.04},{"s":"Ftsemib","t":603,"p":5.04},{"s":"Ftsemib","t":608,"p":5.13},{"s":"Ftsemib","t":613,"p":5.18},{"s":"Ftsemib","t":618,"p":5.27},
{"s":"AimItalia","t":0,"p":4.95},{"s":"AimItalia","t":11,"p":4.86},{"s":"AimItalia","t":22,"p":4.81},{"s":"AimItalia","t":33,"p":4.81},{"s":"AimItalia","t":44,"p":4.72},{"s":"AimItalia","t":55,"p":4.72},{"s":"AimItalia","t":65,"p":4.77},{"s":"AimItalia","t":76,"p":4.81},{"s":"AimItalia","t":87,"p":4.9},{"s":"AimItalia","t":98,"p":4.99},{"s":"AimItalia","t":106,"p":5.04},{"s":"AimItalia","t":115,"p":5.22},{"s":"AimItalia","t":120,"p":5.27},{"s":"AimItalia","t":125,"p":5.18},{"s":"AimItalia","t":134,"p":5.13},{"s":"AimItalia","t":142,"p":5.13},{"s":"AimItalia","t":150,"p":5.13},{"s":"AimItalia","t":158,"p":4.99},{"s":"AimItalia","t":166,"p":4.95},{"s":"AimItalia","t":174,"p":4.9},{"s":"AimItalia","t":183,"p":4.9},{"s":"AimItalia","t":191,"p":4.9},{"s":"AimItalia","t":202,"p":4.81},{"s":"AimItalia","t":213,"p":4.77},{"s":"AimItalia","t":224,"p":4.68},{"s":"AimItalia","t":234,"p":4.59},{"s":"AimItalia","t":245,"p":4.54},{"s":"AimItalia","t":256,"p":4.5},{"s":"AimItalia","t":267,"p":4.45},{"s":"AimItalia","t":278,"p":4.4},{"s":"AimItalia","t":289,"p":4.36},{"s":"AimItalia","t":300,"p":4.31},{"s":"AimItalia","t":308,"p":4.22},{"s":"AimItalia","t":316,"p":4.0},{"s":"AimItalia","t":327,"p":3.91},{"s":"AimItalia","t":338,"p":4.0},{"s":"AimItalia","t":349,"p":4.0},{"s":"AimItalia","t":360,"p":4.0},{"s":"AimItalia","t":371,"p":4.0},{"s":"AimItalia","t":382,"p":3.95},{"s":"AimItalia","t":393,"p":3.91},{"s":"AimItalia","t":403,"p":3.86},{"s":"AimItalia","t":412,"p":3.72},{"s":"AimItalia","t":420,"p":3.59},{"s":"AimItalia","t":431,"p":3.59},{"s":"AimItalia","t":442,"p":3.54},{"s":"AimItalia","t":453,"p":3.5},{"s":"AimItalia","t":463,"p":3.5},{"s":"AimItalia","t":474,"p":3.54},{"s":"AimItalia","t":485,"p":3.54},{"s":"AimItalia","t":496,"p":3.59},{"s":"AimItalia","t":507,"p":3.63},{"s":"AimItalia","t":518,"p":3.63},{"s":"AimItalia","t":529,"p":3.59},{"s":"AimItalia","t":537,"p":3.59},{"s":"AimItalia","t":545,"p":3.72},{"s":"AimItalia","t":553,"p":3.81},{"s":"AimItalia","t":562,"p":3.91},{"s":"AimItalia","t":573,"p":4.0},{"s":"AimItalia","t":583,"p":4.0},{"s":"AimItalia","t":594,"p":4.04},{"s":"AimItalia","t":605,"p":4.04},{"s":"AimItalia","t":613,"p":4.13},{"s":"AimItalia","t":618,"p":4.22}
]},
"encoding":{"x":{"field":"t","type":"quantitative","scale":{"domain":[0,619],"nice":false,"zero":false},
"axis":{"title":null,"values":[0,11,22,33,44,55,66,77,88,99,110,121,132,143,154,165,176,187,198,209,220,231,242,253,264,275,286,297,308,319,330,341,352,363,374,385,396,407,418,429,440,451,462,473,484,495,506,517,528,539,550,561,572,583,594,605,616],
"labelExpr":"['23/10/14','07/11/14','24/11/14','09/12/14','29/12/14','15/01/15','30/01/15','16/02/15','03/03/15','18/03/15','02/04/15','21/04/15','07/05/15','22/05/15','08/06/15','23/06/15','08/07/15','23/07/15','07/08/15','24/08/15','08/09/15','23/09/15','08/10/15','23/10/15','09/11/15','24/11/15','09/12/15','28/12/15','14/01/16','29/01/16','15/02/16','01/03/16','16/03/16','04/04/16','19/04/16','04/05/16','19/05/16','03/06/16','20/06/16','05/07/16','20/07/16','04/08/16','22/08/16','06/09/16','21/09/16','06/10/16','21/10/16','07/11/16','22/11/16','07/12/16','22/12/16','09/01/17','24/01/17','08/02/17','23/02/17','10/03/17','27/03/17'][round(datum.value/11)]",
"labelAngle":270,"labelFontSize":11,"labelOverlap":false,"labelPadding":3,"tickSize":4,"labelFlush":false}}},
"layer":[
{"data":{"name":"vol"},"mark":{"type":"bar","size":1.3},
"encoding":{"y":{"field":"v","type":"quantitative","scale":{"domain":[0,320000],"nice":false},
"axis":{"title":null,"orient":"left","values":[0,20000,40000,60000,80000,100000,120000,140000,160000,180000,200000,220000,240000,260000,280000,300000,320000],"labelExpr":"replace(format(datum.value, ','), ',', '.')","labelFontSize":12,"tickSize":4,"labelPadding":6}},
"color":{"datum":"Volumi","type":"nominal","title":null,"scale":{"domain":["Volumi","Bio-on","AimItalia","Ftsemib"],"range":["#a6a6a6","#077a3d","#595959","#ff0000"]},
"legend":{"title":null,"encode":{"symbols":{"update":{"stroke":{"signal":"scale('color', datum.value)"},"strokeDash":{"signal":"datum.label === 'AimItalia' ? [11,10] : [100,0]"}}}}}}}},
{"data":{"name":"px"},
"encoding":{"y":{"field":"p","type":"quantitative","scale":{"domain":[2,28],"nice":false,"zero":false},
"axis":{"title":null,"orient":"right","values":[2,3.5,5,6.5,8,9.5,11,12.5,14,15.5,17,18.5,20,21.5,23,24.5,26,27.5],"labelExpr":"replace(format(datum.value, '.2f'), '.', ',')","labelFontSize":12,"tickSize":4,"labelPadding":6}}},
"layer":[
{"transform":[{"filter":"datum.s === 'AimItalia'"}],"mark":{"type":"line","strokeWidth":3,"strokeDash":[9,6]},"encoding":{"color":{"field":"s","type":"nominal","title":null}}},
{"transform":[{"filter":"datum.s === 'Ftsemib'"}],"mark":{"type":"line","strokeWidth":3},"encoding":{"color":{"field":"s","type":"nominal","title":null}}},
{"transform":[{"filter":"datum.s === 'Bio-on'"}],"mark":{"type":"line","strokeWidth":4.5,"strokeJoin":"round"},"encoding":{"color":{"field":"s","type":"nominal","title":null}}}
]}
],
"resolve":{"scale":{"y":"independent"}}
}
